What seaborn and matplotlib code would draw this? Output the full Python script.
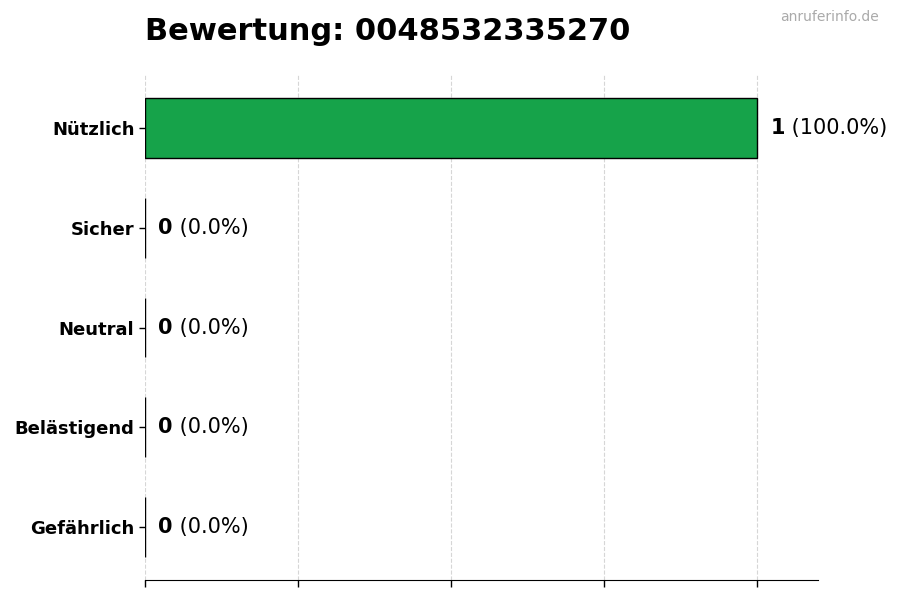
import matplotlib
matplotlib.use("Agg")
import matplotlib.pyplot as plt
import seaborn as sns
import pandas as pd

# Daten der Bewertung
categories = ["Nützlich", "Sicher", "Neutral", "Belästigend", "Gefährlich"]
counts = [1, 0, 0, 0, 0]
colors = ["#16a34a", "#4ade80", "#9ca3af", "#f97316", "#dc2626"]
phone = "0048532335270"

total = sum(counts)
percents = [c / total * 100 if total else 0 for c in counts]
df = pd.DataFrame({"Kategorie": categories, "Anzahl": counts})

plt.rcParams['font.family'] = ['DejaVu Sans']

fig = plt.figure(figsize=(9, 6), dpi=100)
ax = fig.add_axes([0.161, 0.0333, 0.748, 0.8417])

sns.barplot(data=df, y="Kategorie", x="Anzahl", hue="Kategorie", palette=colors,
            orient="h", width=0.6, edgecolor="black", linewidth=1,
            saturation=1, legend=False, ax=ax)

ax.set_xlim(0, max(counts) * 1.1)
ax.set_ylim(len(categories) - 1 + 0.53, -0.53)
ax.set_xticks([0, 0.25, 0.5, 0.75, 1.0])
ax.set_xticklabels([])
ax.tick_params(axis="x", length=5, width=1, color="black")
ax.tick_params(axis="y", length=4, width=1, color="black", labelsize=13)
ax.set_xlabel("")
ax.set_ylabel("")
for lbl in ax.get_yticklabels():
    lbl.set_fontweight("bold")

ax.grid(axis="x", linestyle="--", color="#cccccc", linewidth=0.8, alpha=0.8)
ax.set_axisbelow(True)

sns.despine(ax=ax, left=True)
ax.spines["bottom"].set_color("black")

# Werte neben den Balken
offset = max(counts) * 0.022
for i, (c, p) in enumerate(zip(counts, percents)):
    t = ax.annotate(f"{c}", xy=(c + offset, i), va="center", ha="left",
                    fontsize=15, fontweight="bold", color="black")
    ax.annotate(f" ({p:.1f}%)", xycoords=t, xy=(1, 0.5), va="center", ha="left",
                fontsize=15, color="black")

fig.text(0.161, 0.948, f"Bewertung: {phone}", fontsize=22, fontweight="bold",
         ha="left", va="center", color="black")
fig.text(0.976, 0.972, "anruferinfo.de", fontsize=10, color="#aaaaaa",
         ha="right", va="center")

fig.savefig("out.png", dpi=100)
